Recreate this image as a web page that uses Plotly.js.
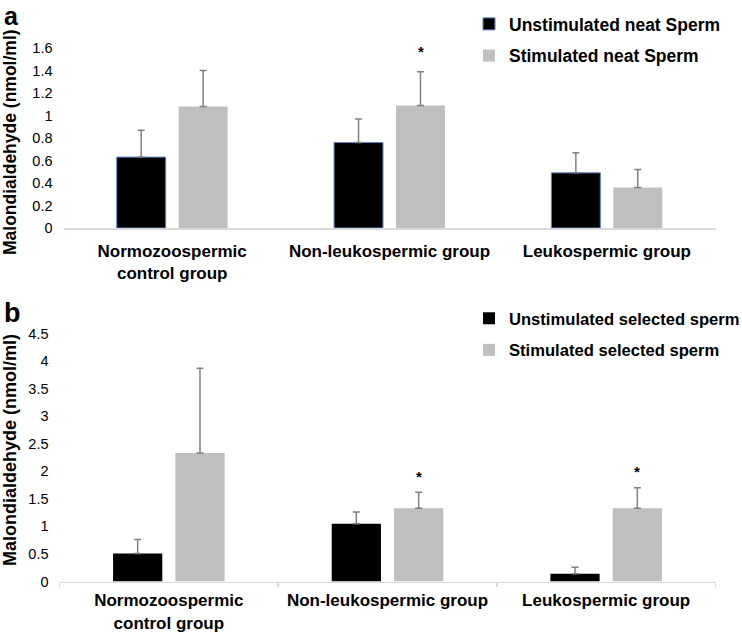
<!DOCTYPE html>
<html>
<head>
<meta charset="utf-8">
<script src="https://cdn.plot.ly/plotly-3.0.1.min.js"></script>
<style>html,body{margin:0;padding:0;background:#fff;} #chart{width:742px;height:633px;}</style>
</head>
<body>
<div id="chart"></div>
<script>
// ---- data ----
const categories = ['Normozoospermic<br>control group', 'Non-leukospermic group', 'Leukospermic group'];

// panel a: neat sperm
const unstimNeat = [0.63, 0.76, 0.49];
const unstimNeatErr = [0.24, 0.21, 0.18];
const stimNeat = [1.08, 1.09, 0.36];
const stimNeatErr = [0.32, 0.30, 0.16];
const sigNeat = ['', '*', ''];

// panel b: selected sperm
const unstimSel = [0.51, 1.05, 0.14];
const unstimSelErr = [0.25, 0.21, 0.12];
const stimSel = [2.33, 1.33, 1.33];
const stimSelErr = [1.54, 0.29, 0.37];
const sigSel = ['', '*', '*'];

const yTicksA = [0, 0.2, 0.4, 0.6, 0.8, 1, 1.2, 1.4, 1.6];
const yTicksB = [0, 0.5, 1, 1.5, 2, 2.5, 3, 3.5, 4, 4.5];

// ---- styling ----
const FONT = 'Liberation Sans, Arial, sans-serif';
const BLACK = '#000000';
const GREY = '#bfbfbf';
const ERRC = '#808080';
const W = 742, H = 633;
const px = v => v / W;
const py = v => 1 - v / H;

function errObj(arr) {
  return {type: 'data', symmetric: false, array: arr, arrayminus: arr.map(() => 0),
          color: ERRC, thickness: 1.5, width: 3.5};
}

const traces = [
  {type: 'bar', name: 'Unstimulated neat Sperm', x: categories, y: unstimNeat,
   error_y: errObj(unstimNeatErr), xaxis: 'x', yaxis: 'y', legend: 'legend', legendgroup: 'a1',
   marker: {color: BLACK, line: {color: '#5b82c0', width: 1}}},
  {type: 'bar', name: 'Stimulated neat Sperm', x: categories, y: stimNeat,
   error_y: errObj(stimNeatErr), xaxis: 'x', yaxis: 'y', legend: 'legend', legendgroup: 'a2',
   marker: {color: GREY, line: {width: 0}}},
  {type: 'bar', name: 'Unstimulated selected sperm', x: categories, y: unstimSel,
   error_y: errObj(unstimSelErr), xaxis: 'x2', yaxis: 'y2', legend: 'legend2', legendgroup: 'b1',
   marker: {color: BLACK, line: {width: 0}}},
  {type: 'bar', name: 'Stimulated selected sperm', x: categories, y: stimSel,
   error_y: errObj(stimSelErr), xaxis: 'x2', yaxis: 'y2', legend: 'legend2', legendgroup: 'b2',
   marker: {color: GREY, line: {width: 0}}}
];

const annotations = [];
// significance asterisks above the stimulated bars
sigNeat.forEach((s, i) => {
  if (s) annotations.push({xref: 'x', yref: 'y', x: categories[i], y: stimNeat[i] + stimNeatErr[i],
    text: s, showarrow: false, xshift: 31, yshift: 20, font: {family: FONT, size: 15, weight: 'bold', color: '#000'}});
});
sigSel.forEach((s, i) => {
  if (s) annotations.push({xref: 'x2', yref: 'y2', x: categories[i], y: stimSel[i] + stimSelErr[i],
    text: s, showarrow: false, xshift: 31, yshift: 16, font: {family: FONT, size: 15, weight: 'bold', color: '#000'}});
});
// panel letters
annotations.push({xref: 'paper', yref: 'paper', x: px(2), y: 1, xanchor: 'left', yanchor: 'top',
  text: 'a', showarrow: false, font: {family: FONT, size: 25, weight: 'bold', color: '#000'}});
annotations.push({xref: 'paper', yref: 'paper', x: px(2), y: py(313), xanchor: 'left', yanchor: 'middle',
  text: 'b', showarrow: false, font: {family: FONT, size: 27, weight: 'bold', color: '#000'}});
// y-axis titles
annotations.push({xref: 'paper', yref: 'paper', x: px(10), y: py(142), xanchor: 'center', yanchor: 'middle',
  textangle: -90, text: 'Malondialdehyde (nmol/ml)', showarrow: false,
  font: {family: FONT, size: 17.5, weight: 'bold', color: '#000'}});
annotations.push({xref: 'paper', yref: 'paper', x: px(10), y: py(450), xanchor: 'center', yanchor: 'middle',
  textangle: -90, text: 'Malondialdehyde (nmol/ml)', showarrow: false,
  font: {family: FONT, size: 18, weight: 'bold', color: '#000'}});

const xCommon = {
  type: 'category', showgrid: false, zeroline: false, showline: true, linecolor: '#d9d9d9', linewidth: 1.5,
  tickfont: {family: FONT, size: 17, weight: 'bold', color: '#000'}, fixedrange: true
};
const yCommon = {
  showgrid: false, zeroline: false, showline: false, ticks: '', ticklabelstandoff: 10,
  tickfont: {family: FONT, size: 14.5, color: '#000'}, fixedrange: true
};

const layout = {
  width: W, height: H,
  margin: {l: 0, r: 0, t: 0, b: 0, autoexpand: false},
  paper_bgcolor: '#fff', plot_bgcolor: '#fff',
  font: {family: FONT, color: '#000'},
  barmode: 'group', bargap: 0.43, bargroupgap: 0.21,
  showlegend: true,
  xaxis: Object.assign({}, xCommon, {domain: [px(63.5), px(715.5)], anchor: 'y', ticks: '', ticklabelstandoff: 7}),
  yaxis: Object.assign({}, yCommon, {domain: [py(228), py(48)], anchor: 'x', range: [0, 1.6],
    tickvals: yTicksA, ticktext: yTicksA.map(String)}),
  xaxis2: Object.assign({}, xCommon, {domain: [px(59.5), px(715.5)], anchor: 'y2', ticks: 'outside',
    tickson: 'boundaries', ticklen: 4, tickcolor: '#d9d9d9', tickwidth: 1.5, ticklabelstandoff: 3}),
  yaxis2: Object.assign({}, yCommon, {domain: [py(581.5), py(333.5)], anchor: 'x2', range: [0, 4.5],
    tickvals: yTicksB, ticktext: yTicksB.map(String)}),
  legend: {x: px(469), y: py(6), xanchor: 'left', yanchor: 'top', bgcolor: 'rgba(0,0,0,0)',
    font: {family: FONT, size: 17.5, weight: 'bold', color: '#000'}, traceorder: 'grouped', tracegroupgap: 6},
  legend2: {x: px(469), y: py(301), xanchor: 'left', yanchor: 'top', bgcolor: 'rgba(0,0,0,0)',
    font: {family: FONT, size: 16.6, weight: 'bold', color: '#000'}, traceorder: 'grouped', tracegroupgap: 7},
  annotations: annotations
};

Plotly.newPlot('chart', traces, layout, {displayModeBar: false, staticPlot: true});
</script>
</body>
</html>
